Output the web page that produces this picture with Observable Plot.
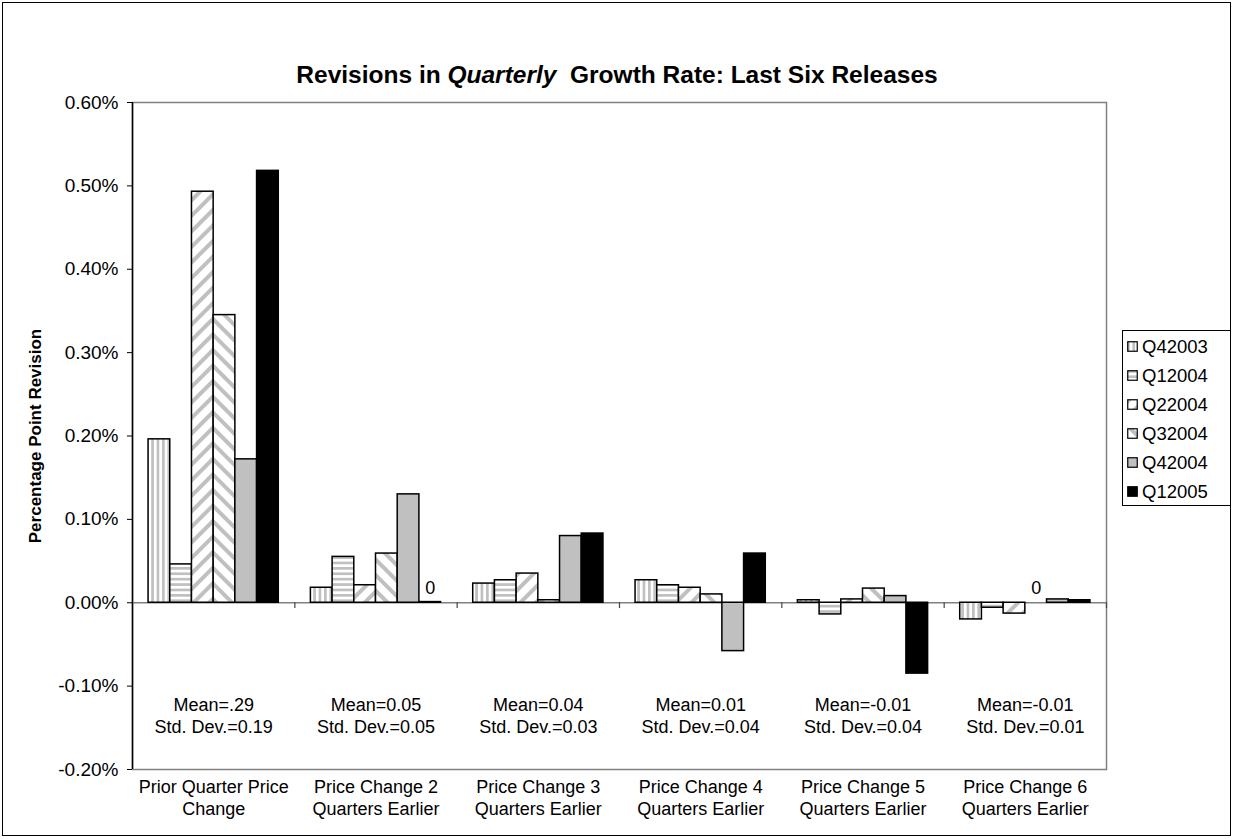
<!DOCTYPE html>
<html>
<head>
<meta charset="utf-8">
<script src="https://cdn.jsdelivr.net/npm/d3@7"></script>
<script src="https://cdn.jsdelivr.net/npm/@observablehq/plot@0.6"></script>
<style>
  body { margin: 0; background: #fff; }
  #wrap { position: relative; width: 1234px; height: 839px; font-family: "Liberation Sans", Arial, sans-serif; color: #000; }
  #wrap svg.plot { position: absolute; left: 0; top: 0; }
  #border { position: absolute; left: 2px; top: 2px; width: 1229px; height: 834px; border: 1px solid #000; box-sizing: border-box; pointer-events: none; }
  #title { position: absolute; top: 60px; left: 0; width: 1234px; text-align: center; font-weight: bold; font-size: 24.5px; line-height: 30px; }
  #legend { position: absolute; left: 1122px; top: 330px; width: 109px; height: 176px; border: 1px solid #000; box-sizing: border-box; background: #fff; padding-top: 1px; }
  .item { height: 29px; display: flex; align-items: center; font-size: 18.5px; padding-left: 4px; }
  .item svg { margin-right: 4px; }
</style>
</head>
<body>
<div id="wrap">
  <div id="chart"></div>
  <div id="title">Revisions in <i>Quarterly</i> &nbsp;Growth Rate: Last Six Releases</div>
  <div id="legend"></div>
  <div id="border"></div>
</div>
<script>
// ---- data ----
const categories = [
  "Prior Quarter Price\nChange",
  "Price Change 2\nQuarters Earlier",
  "Price Change 3\nQuarters Earlier",
  "Price Change 4\nQuarters Earlier",
  "Price Change 5\nQuarters Earlier",
  "Price Change 6\nQuarters Earlier"
];
const series = ["Q42003", "Q12004", "Q22004", "Q32004", "Q42004", "Q12005"];
// values in percentage points, one array per release, in category order
const q42003 = [0.196, 0.018, 0.023, 0.027, 0.003, -0.020];
const q12004 = [0.046, 0.055, 0.027, 0.021, -0.014, -0.006];
const q22004 = [0.493, 0.021, 0.035, 0.018, 0.004, -0.013];
const q32004 = [0.345, 0.059, 0.003, 0.010, 0.017, 0];
const q42004 = [0.172, 0.130, 0.080, -0.058, 0.008, 0.004];
const q12005 = [0.518, 0.0008, 0.083, 0.059, -0.085, 0.003];
const means = [".29", "0.05", "0.04", "0.01", "-0.01", "-0.01"];
const stdDevs = ["0.19", "0.05", "0.03", "0.04", "0.04", "0.01"];
const yTicks = [-0.2, -0.1, 0, 0.1, 0.2, 0.3, 0.4, 0.5, 0.6];
const yTitle = "Percentage Point Revision";

// ---- build table ----
const seriesValues = [q42003, q12004, q22004, q32004, q42004, q12005];
const data = [];
series.forEach((s, si) => seriesValues[si].forEach((v, ci) => data.push({s, si, ci, v})));
const notes = means.map((m, i) => ({i, t: `Mean=${m}\nStd. Dev.=${stdDevs[i]}`}));

const bw = 0.1337;              // bar width as fraction of a category
const off = (1 - series.length * bw) / 2;
const fills = series.map((_, i) => `url(#pat${i})`);
const font = '"Liberation Sans", Arial, sans-serif';

const svg = Plot.plot({
  width: 1234,
  height: 839,
  marginLeft: 132,
  marginRight: 128,
  marginTop: 102,
  marginBottom: 70,
  x: {domain: [0, categories.length], axis: null},
  y: {domain: [-0.2, 0.6]},
  color: {type: "ordinal", domain: series, range: fills},
  style: {fontFamily: font, fontSize: "18px", color: "#000", background: "transparent", overflow: "visible"},
  marks: [
    Plot.frame({stroke: "#808080", strokeWidth: 1.5}),
    Plot.ruleY([0], {stroke: "#808080", strokeWidth: 1.5}),
    Plot.ruleX(d3.range(1, categories.length + 1), {x: d => d, y1: 0, y2: -0.007, stroke: "#444", strokeWidth: 1.2}),
    Plot.rectY(data, {
      x1: d => d.ci + off + d.si * bw,
      x2: d => d.ci + off + (d.si + 1) * bw,
      y1: 0,
      y2: "v",
      fill: "s",
      stroke: "#000",
      strokeWidth: 1.5
    }),
    Plot.ruleX([0], {stroke: "#000", strokeWidth: 1.5}),
    Plot.axisY({ticks: yTicks, tickFormat: d => d.toFixed(2) + "%", tickSize: 5, tickPadding: 9, fontSize: 19, label: null, stroke: "#000"}),
    Plot.text(data.filter(d => Math.abs(d.v) < 0.001), {
      x: d => d.ci + off + (d.si + 0.5) * bw, y: 0, dy: -15, text: () => "0", fontSize: 18
    }),
    Plot.text(notes, {x: d => d.i + 0.5, frameAnchor: "bottom", lineAnchor: "middle", textAnchor: "middle", dy: -55, text: "t", lineHeight: 1.22, fontSize: 18}),
    Plot.text(categories, {x: (d, i) => i + 0.5, frameAnchor: "bottom", lineAnchor: "top", textAnchor: "middle", dy: 8, text: d => d, lineHeight: 1.22, fontSize: 18}),
    Plot.text([yTitle], {frameAnchor: "left", textAnchor: "middle", lineAnchor: "middle", dx: -97, rotate: -90, text: d => d, fontWeight: "bold", fontSize: 17})
  ]
});
svg.classList.add("plot");

// patterns
const defs = d3.select(svg).insert("defs", ":first-child");
function stripes(id, w, h, sw, rot, vertical) {
  const p = defs.append("pattern").attr("id", id).attr("patternUnits", "userSpaceOnUse")
    .attr("width", w).attr("height", h);
  if (rot) p.attr("patternTransform", `rotate(${rot})`);
  p.append("rect").attr("width", w).attr("height", h).attr("fill", "#fff");
  if (vertical) p.append("rect").attr("width", sw).attr("height", h).attr("fill", "#c0c0c0");
  else p.append("rect").attr("width", w).attr("height", sw).attr("fill", "#c0c0c0");
}
function solid(id, c) {
  const p = defs.append("pattern").attr("id", id).attr("patternUnits", "userSpaceOnUse").attr("width", 10).attr("height", 10);
  p.append("rect").attr("width", 10).attr("height", 10).attr("fill", c);
}
stripes("pat0", 5.4, 10, 2.7, 0, true);
stripes("pat1", 10, 5.4, 2.7, 0, false);
stripes("pat2", 11, 11, 4, 45, true);
stripes("pat3", 11, 11, 4, -45, true);
solid("pat4", "#c0c0c0");
solid("pat5", "#000");

document.getElementById("chart").appendChild(svg);

// legend
const legend = d3.select("#legend");
series.forEach((s, i) => {
  const it = legend.append("div").attr("class", "item");
  const sw = it.append("svg").attr("width", 11).attr("height", 11);
  sw.append("rect").attr("x", 0.75).attr("y", 0.75).attr("width", 9.5).attr("height", 9.5)
    .attr("fill", fills[i]).attr("stroke", "#000").attr("stroke-width", 1.2);
  it.append("span").text(s);
});
</script>
</body>
</html>
